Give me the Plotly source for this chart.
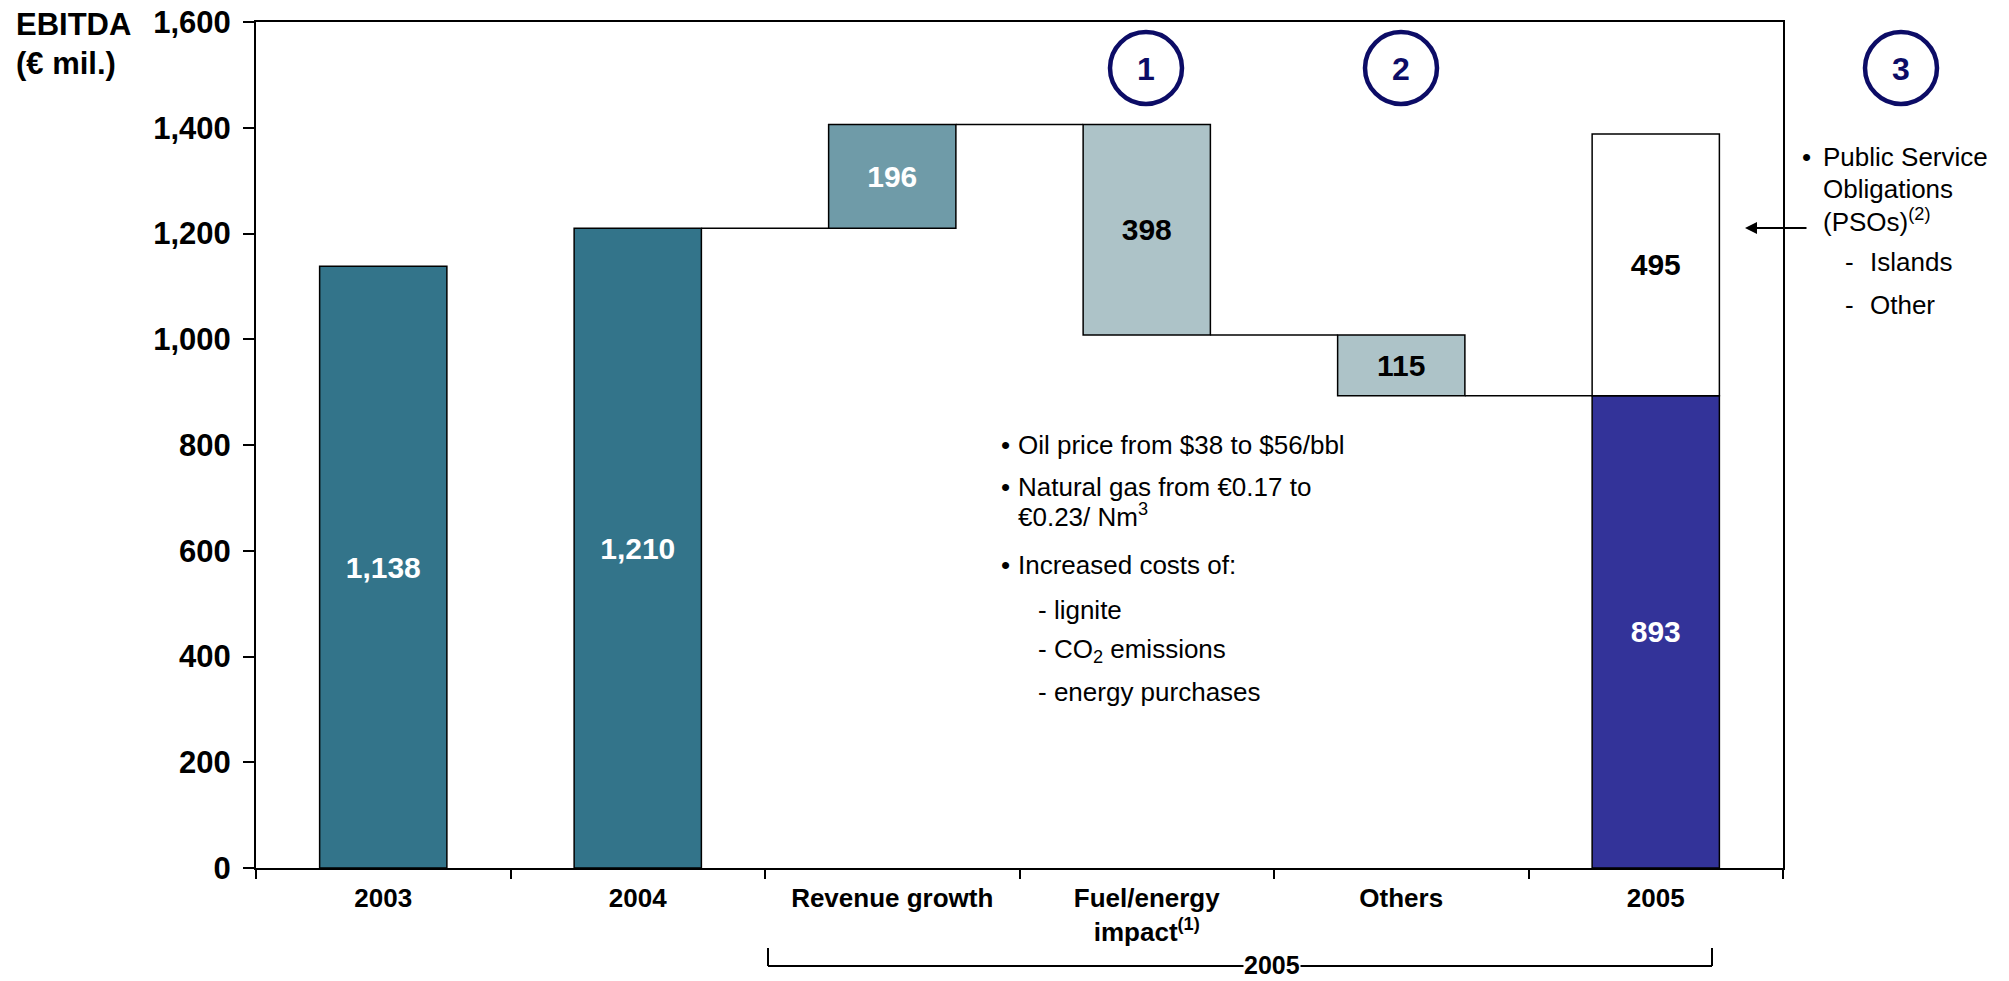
import plotly.graph_objects as go

# ---- data -------------------------------------------------------------
categories = ["2003", "2004", "Revenue growth",
              "Fuel/energy<br>impact<sup>(1)</sup>", "Others", "2005"]
year_totals = {"2003": 1138, "2004": 1210}
bridge_changes = [196, -398, -115]          # revenue, fuel/energy, others
pso_amount = 495                            # public service obligations
y_ticks = [0, 200, 400, 600, 800, 1000, 1200, 1400, 1600]

# ---- derived waterfall geometry --------------------------------------
start_2004 = year_totals["2004"]
bases, heights = [0, 0], [year_totals["2003"], year_totals["2004"]]
level = start_2004
for ch in bridge_changes:
    new_level = level + ch
    bases.append(min(level, new_level))
    heights.append(abs(ch))
    level = new_level
end_2005 = level                            # 893
bases.append(0)
heights.append(end_2005)

bar_colors = ["#33748A", "#33748A", "#6F9BA8", "#ADC3C8", "#ADC3C8", "#333399"]
text_colors = ["white", "white", "white", "black", "black", "white"]
labels = [f"<b>{v:,}</b>" for v in heights]

FONT = "Liberation Sans, Arial, sans-serif"
NAVY = "#0C0C66"

# plot-area pixel frame used for placing free text
PL, PR, PT, PB = 256, 1783, 22, 868


def fx(px):
    return (px - PL) / (PR - PL)


def fy(py):
    return (PB - py) / (PB - PT)


fig = go.Figure()

fig.add_trace(go.Bar(
    x=categories, y=heights, base=bases, width=0.5,
    marker=dict(color=bar_colors, line=dict(color="black", width=1.5)),
    text=labels, textposition="inside", insidetextanchor="middle",
    textangle=0, constraintext="none",
    textfont=dict(family=FONT, size=30, color=text_colors),
    hoverinfo="skip", showlegend=False,
))

fig.add_trace(go.Bar(
    x=[categories[-1]], y=[pso_amount], base=[end_2005], width=0.5,
    marker=dict(color="white", line=dict(color="black", width=1.5)),
    text=[f"<b>{pso_amount:,}</b>"], textposition="inside",
    insidetextanchor="middle", textangle=0, constraintext="none",
    textfont=dict(family=FONT, size=30, color="black"),
    hoverinfo="skip", showlegend=False,
))

# connectors between floating bars
levels = [start_2004]
lv = start_2004
for ch in bridge_changes:
    lv += ch
    levels.append(lv)
shapes = []
for i, yv in enumerate(levels):
    shapes.append(dict(type="line", xref="x", yref="y",
                       x0=1 + i + 0.25, x1=2 + i - 0.25, y0=yv, y1=yv,
                       line=dict(color="black", width=1.5)))

# numbered circles
circle_px = [1146, 1401, 1901]
for px in circle_px:
    shapes.append(dict(type="circle", xref="paper", yref="paper",
                       xsizemode="pixel", ysizemode="pixel",
                       xanchor=fx(px), yanchor=fy(68),
                       x0=-36, x1=36, y0=-36, y1=36,
                       line=dict(color=NAVY, width=4.5)))

# bracket under the 2005 columns
bx0, bx1 = 768, 1712
shapes += [
    dict(type="line", xref="paper", yref="paper", x0=fx(bx0), x1=fx(bx0),
         y0=fy(948), y1=fy(966), line=dict(color="black", width=2)),
    dict(type="line", xref="paper", yref="paper", x0=fx(bx1), x1=fx(bx1),
         y0=fy(948), y1=fy(966), line=dict(color="black", width=2)),
    dict(type="line", xref="paper", yref="paper", x0=fx(bx0), x1=fx(bx1),
         y0=fy(966), y1=fy(966), line=dict(color="black", width=2)),
]

ann = []


def txt(s, px, py, size=26, bold=False, color="black", xanchor="left",
        bg=None, pad=1):
    d = dict(text=f"<b>{s}</b>" if bold else s, xref="paper", yref="paper",
             x=fx(px), y=fy(py), xanchor=xanchor, yanchor="middle",
             showarrow=False, borderpad=pad,
             font=dict(family=FONT, size=size, color=color))
    if bg:
        d["bgcolor"] = bg
    ann.append(d)


for n, px in enumerate(circle_px, start=1):
    txt(str(n), px, 69, size=32, bold=True, color=NAVY, xanchor="center")

# y-axis title
txt("EBITDA", 14, 25, size=31, bold=True)
txt("(€ mil.)", 14, 64, size=31, bold=True)

# bracket label
txt("2005", 1272, 965, size=25, bold=True, xanchor="center", bg="white", pad=0)

# fuel/energy commentary
mid_lines = [
    ("•", 999, 445), ("Oil price from $38 to $56/bbl", 1016, 445),
    ("•", 999, 487), ("Natural gas from €0.17 to", 1016, 487),
    ("€0.23/ Nm<sup>3</sup>", 1016, 515),
    ("•", 999, 565), ("Increased costs of:", 1016, 565),
    ("- lignite", 1036, 610),
    ("- CO<sub>2</sub> emissions", 1036, 650),
    ("- energy purchases", 1036, 692),
]
for s, px, py in mid_lines:
    txt(s, px, py, size=26)

# PSO commentary
right_lines = [
    ("•", 1800, 157), ("Public Service", 1821, 157),
    ("Obligations", 1821, 189),
    ("(PSOs)<sup>(2)</sup>", 1821, 220),
    ("-", 1843, 262), ("Islands", 1868, 262),
    ("-", 1843, 305), ("Other", 1868, 305),
]
for s, px, py in right_lines:
    txt(s, px, py, size=26)

# arrow pointing at the PSO block
ann.append(dict(xref="paper", yref="paper", x=fx(1745), y=fy(228),
                axref="pixel", ayref="pixel", ax=63, ay=0, text="",
                showarrow=True, arrowhead=2, arrowsize=1.2, arrowwidth=2,
                arrowcolor="black"))

x_ticktext = ["<b>Fuel/energy</b><br><b>impact<sup>(1)</sup></b>" if "<br>" in c
              else f"<b>{c}</b>" for c in categories]

fig.update_layout(
    width=2009, height=981,
    margin=dict(l=PL, r=2009 - PR, t=PT, b=981 - PB),
    paper_bgcolor="white", plot_bgcolor="white",
    barmode="overlay",
    font=dict(family=FONT, color="black"),
    shapes=shapes, annotations=ann,
    xaxis=dict(type="category", categoryorder="array", categoryarray=categories,
               automargin=False,
               showline=True, linecolor="black", linewidth=2, mirror=True,
               ticks="outside", tickson="boundaries", ticklen=9, tickwidth=1.5,
               tickcolor="black", showgrid=False,
               tickfont=dict(family=FONT, size=26, color="black"),
               ticklabelstandoff=6,
               tickvals=categories, ticktext=x_ticktext),
    yaxis=dict(range=[0, 1600], tickvals=y_ticks,
               ticktext=[f"<b>{v:,}</b>" for v in y_ticks],
               automargin=False,
               showline=True, linecolor="black", linewidth=2, mirror=True,
               ticks="outside", ticklen=11, tickwidth=2, tickcolor="black",
               showgrid=False, zeroline=False, ticklabelstandoff=6,
               tickfont=dict(family=FONT, size=31, color="black")),
)

fig.write_html("out.html")
